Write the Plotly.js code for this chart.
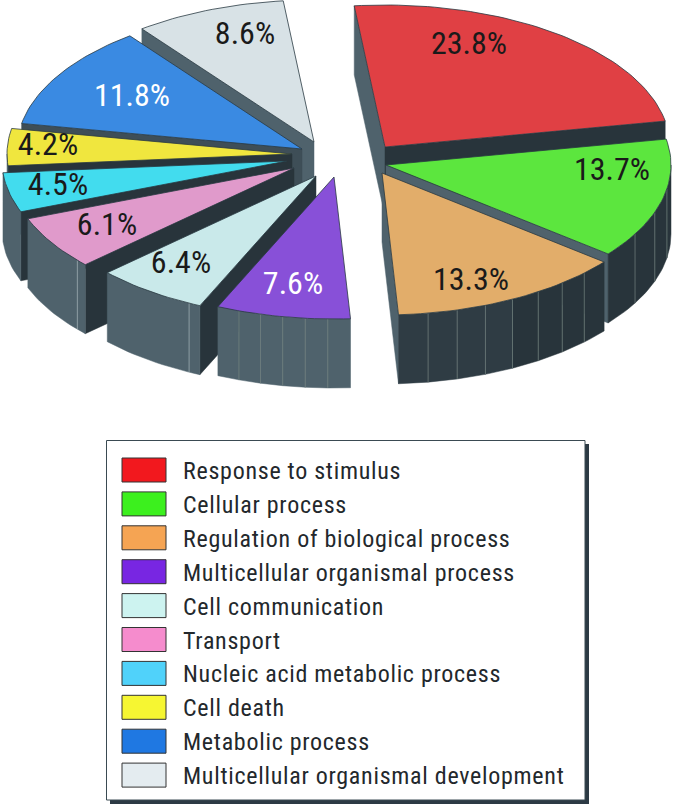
<!DOCTYPE html>
<html>
<head>
<meta charset="utf-8">
<script src="https://cdn.plot.ly/plotly-3.0.1.min.js"></script>
<style>
html,body{margin:0;padding:0;background:#fff}
#chart{width:675px;height:807px}
.annotation-text{letter-spacing:.72px}
</style>
</head>
<body>
<div id="chart"></div>
<script>
// ---- data ----
const categories = ["Response to stimulus","Cellular process","Regulation of biological process","Multicellular organismal process","Cell communication","Transport","Nucleic acid metabolic process","Cell death","Metabolic process","Multicellular organismal development"];
const percents = [23.8,13.7,13.3,7.6,6.4,6.1,4.5,4.2,11.8,8.6];

// ---- styling ----
const topColors = ["#e04044","#5ce63e","#e2ad6a","#8850d8","#c9e9ea","#e09acb","#42dcee","#f0e63e","#3a8ae2","#d8e2e6"];
const swatchColors = ["#f2181e","#3cf01e","#f5a453","#7826e2","#cdf3f0","#f58ccd","#50d2fa","#f6f632","#1f78e2","#e4ecf0"];
const labelColors = ["#1a1a1a","#1a1a1a","#1a1a1a","#ffffff","#1a1a1a","#1a1a1a","#1a1a1a","#1a1a1a","#ffffff","#1a1a1a"];
// explosion: apex of each slice on the page axis
const apexX = [385,386,382,334,316,294,287,292,302,314];
const apexY = [147,165,173,177,176,168,161,154,149,142];
const labelX = [469,612,471,293,181,107,58,48,132,245];
const labelY = [46,172,282,286,265,227,187,147,98,36];
const bandCounts = [0,3,7,5,0,0,0,0,0,0];
const accentOffsetDeg = [0,0,0,0,2.4,2.4,0,0,0,0];
const drawOrder = [9,0,8,1,7,6,5,4,2,3];
const RX = 285, RY = 142, DEPTH = 69, START_DEG = -6.2;
const GREY = "#4f626c", MID = "#3e4e57", DARK = "#28343b";
const FONT = '"Liberation Sans Narrow","Roboto Condensed",Roboto,sans-serif';

const rad = d => d*Math.PI/180;
const traces = [];
function poly(xs,ys,color){
  traces.push({type:"scatter",mode:"lines",x:[...xs,xs[0]],y:[...ys,ys[0]],fill:"toself",fillcolor:color,
    line:{color:color,width:0.5},showlegend:false,hoverinfo:"skip"});
}
function rimPt(i,deg,drop){
  return [apexX[i]+RX*Math.sin(rad(deg)), apexY[i]-RY*Math.cos(rad(deg))+(drop||0)];
}
function arc(i,a,b,drop){
  const n=Math.max(2,Math.ceil(Math.abs(b-a)/1.5)); const xs=[],ys=[];
  for(let k=0;k<=n;k++){const p=rimPt(i,a+(b-a)*k/n,drop);xs.push(p[0]);ys.push(p[1]);}
  return [xs,ys];
}
function radialWall(i,deg,sign){
  // outward normal of the radial face (screen space)
  const nx=sign*Math.cos(rad(deg)), ny=sign*Math.sin(rad(deg));
  if(ny<=0) return;
  const c = nx< -0.5 ? GREY : (nx<0 ? MID : DARK);
  const p=rimPt(i,deg,0);
  poly([apexX[i],p[0],p[0],apexX[i]],[apexY[i],p[1],p[1]+DEPTH,apexY[i]+DEPTH],c);
}
function rimLine(i,deg,color){
  const p=rimPt(i,deg,0);
  traces.push({type:"scatter",mode:"lines",x:[p[0],p[0]],y:[p[1],p[1]+DEPTH],line:{color:color,width:0.7},showlegend:false,hoverinfo:"skip"});
}
function rimWall(i,a,b){
  // only the part of the rim that faces the viewer
  const lo=Math.max(a,90), hi=Math.min(b,270);
  if(hi<=lo) return;
  const n=bandCounts[i]+1;
  for(let k=0;k<n;k++){
    const s=lo+(hi-lo)*k/n, e=lo+(hi-lo)*(k+1)/n;
    const top=arc(i,s,e,0), bot=arc(i,e,s,DEPTH);
    const m=(s+e)/2;
    const c = m<178 ? (m>150 ? "#2f3c44" : DARK) : GREY;
    poly(top[0].concat(bot[0]),top[1].concat(bot[1]),c);
    if(k>0) rimLine(i,s,"#74847f");
  }
  if(accentOffsetDeg[i]) rimLine(i,lo+accentOffsetDeg[i],"#a9b8bc");
}
// cumulative angles come straight from the percentages
const startDeg=[],endDeg=[];
percents.reduce((acc,v,i)=>{startDeg[i]=acc;endDeg[i]=acc+v*3.6;return endDeg[i];},START_DEG);

drawOrder.forEach(i=>{
  const a=startDeg[i], b=endDeg[i];
  radialWall(i,a,-1);
  radialWall(i,b,1);
  rimWall(i,a,b);
  const t=arc(i,a,b,0);
  traces.push({type:"scatter",mode:"lines",x:[apexX[i],...t[0],apexX[i]],y:[apexY[i],...t[1],apexY[i]],fill:"toself",fillcolor:topColors[i],
    line:{color:"#2a3a42",width:0.8},showlegend:false,name:categories[i],hoverinfo:"name"});
});
// percentage labels
traces.push({type:"scatter",mode:"text",x:labelX,y:labelY,text:percents.map(v=>v.toFixed(1)+"%"),
  textposition:"middle center",textfont:{family:FONT,size:32,color:labelColors},showlegend:false,hoverinfo:"skip"});

// legend box
const shapes=[
 {type:"rect",xref:"x",yref:"y",x0:110,y0:444,x1:589,y1:804,fillcolor:"#2c3a44",line:{width:0},layer:"below"},
 {type:"rect",xref:"x",yref:"y",x0:106.5,y0:440.5,x1:585,y1:800,fillcolor:"#ffffff",line:{color:"#3a4a52",width:1},layer:"below"}
];
const annotations=[];
const ROW0=470, ROW=33.9;
categories.forEach((c,i)=>{
  const y=ROW0+ROW*i;
  shapes.push({type:"rect",xref:"x",yref:"y",x0:122,x1:166,y0:y-12,y1:y+12,fillcolor:swatchColors[i],line:{color:"#333",width:1}});
  annotations.push({xref:"x",yref:"y",x:181,y:y+1,text:c,showarrow:false,xanchor:"left",yanchor:"middle",
    font:{family:FONT,size:24,color:"#23282c"}});
});

Plotly.newPlot("chart",traces,{
  width:675,height:807,margin:{l:0,r:0,t:0,b:0},paper_bgcolor:"#fff",plot_bgcolor:"#fff",
  xaxis:{range:[0,675],visible:false,fixedrange:true},
  yaxis:{range:[807,0],visible:false,fixedrange:true},
  shapes:shapes,annotations:annotations,showlegend:false
},{displayModeBar:false});
</script>
</body>
</html>
